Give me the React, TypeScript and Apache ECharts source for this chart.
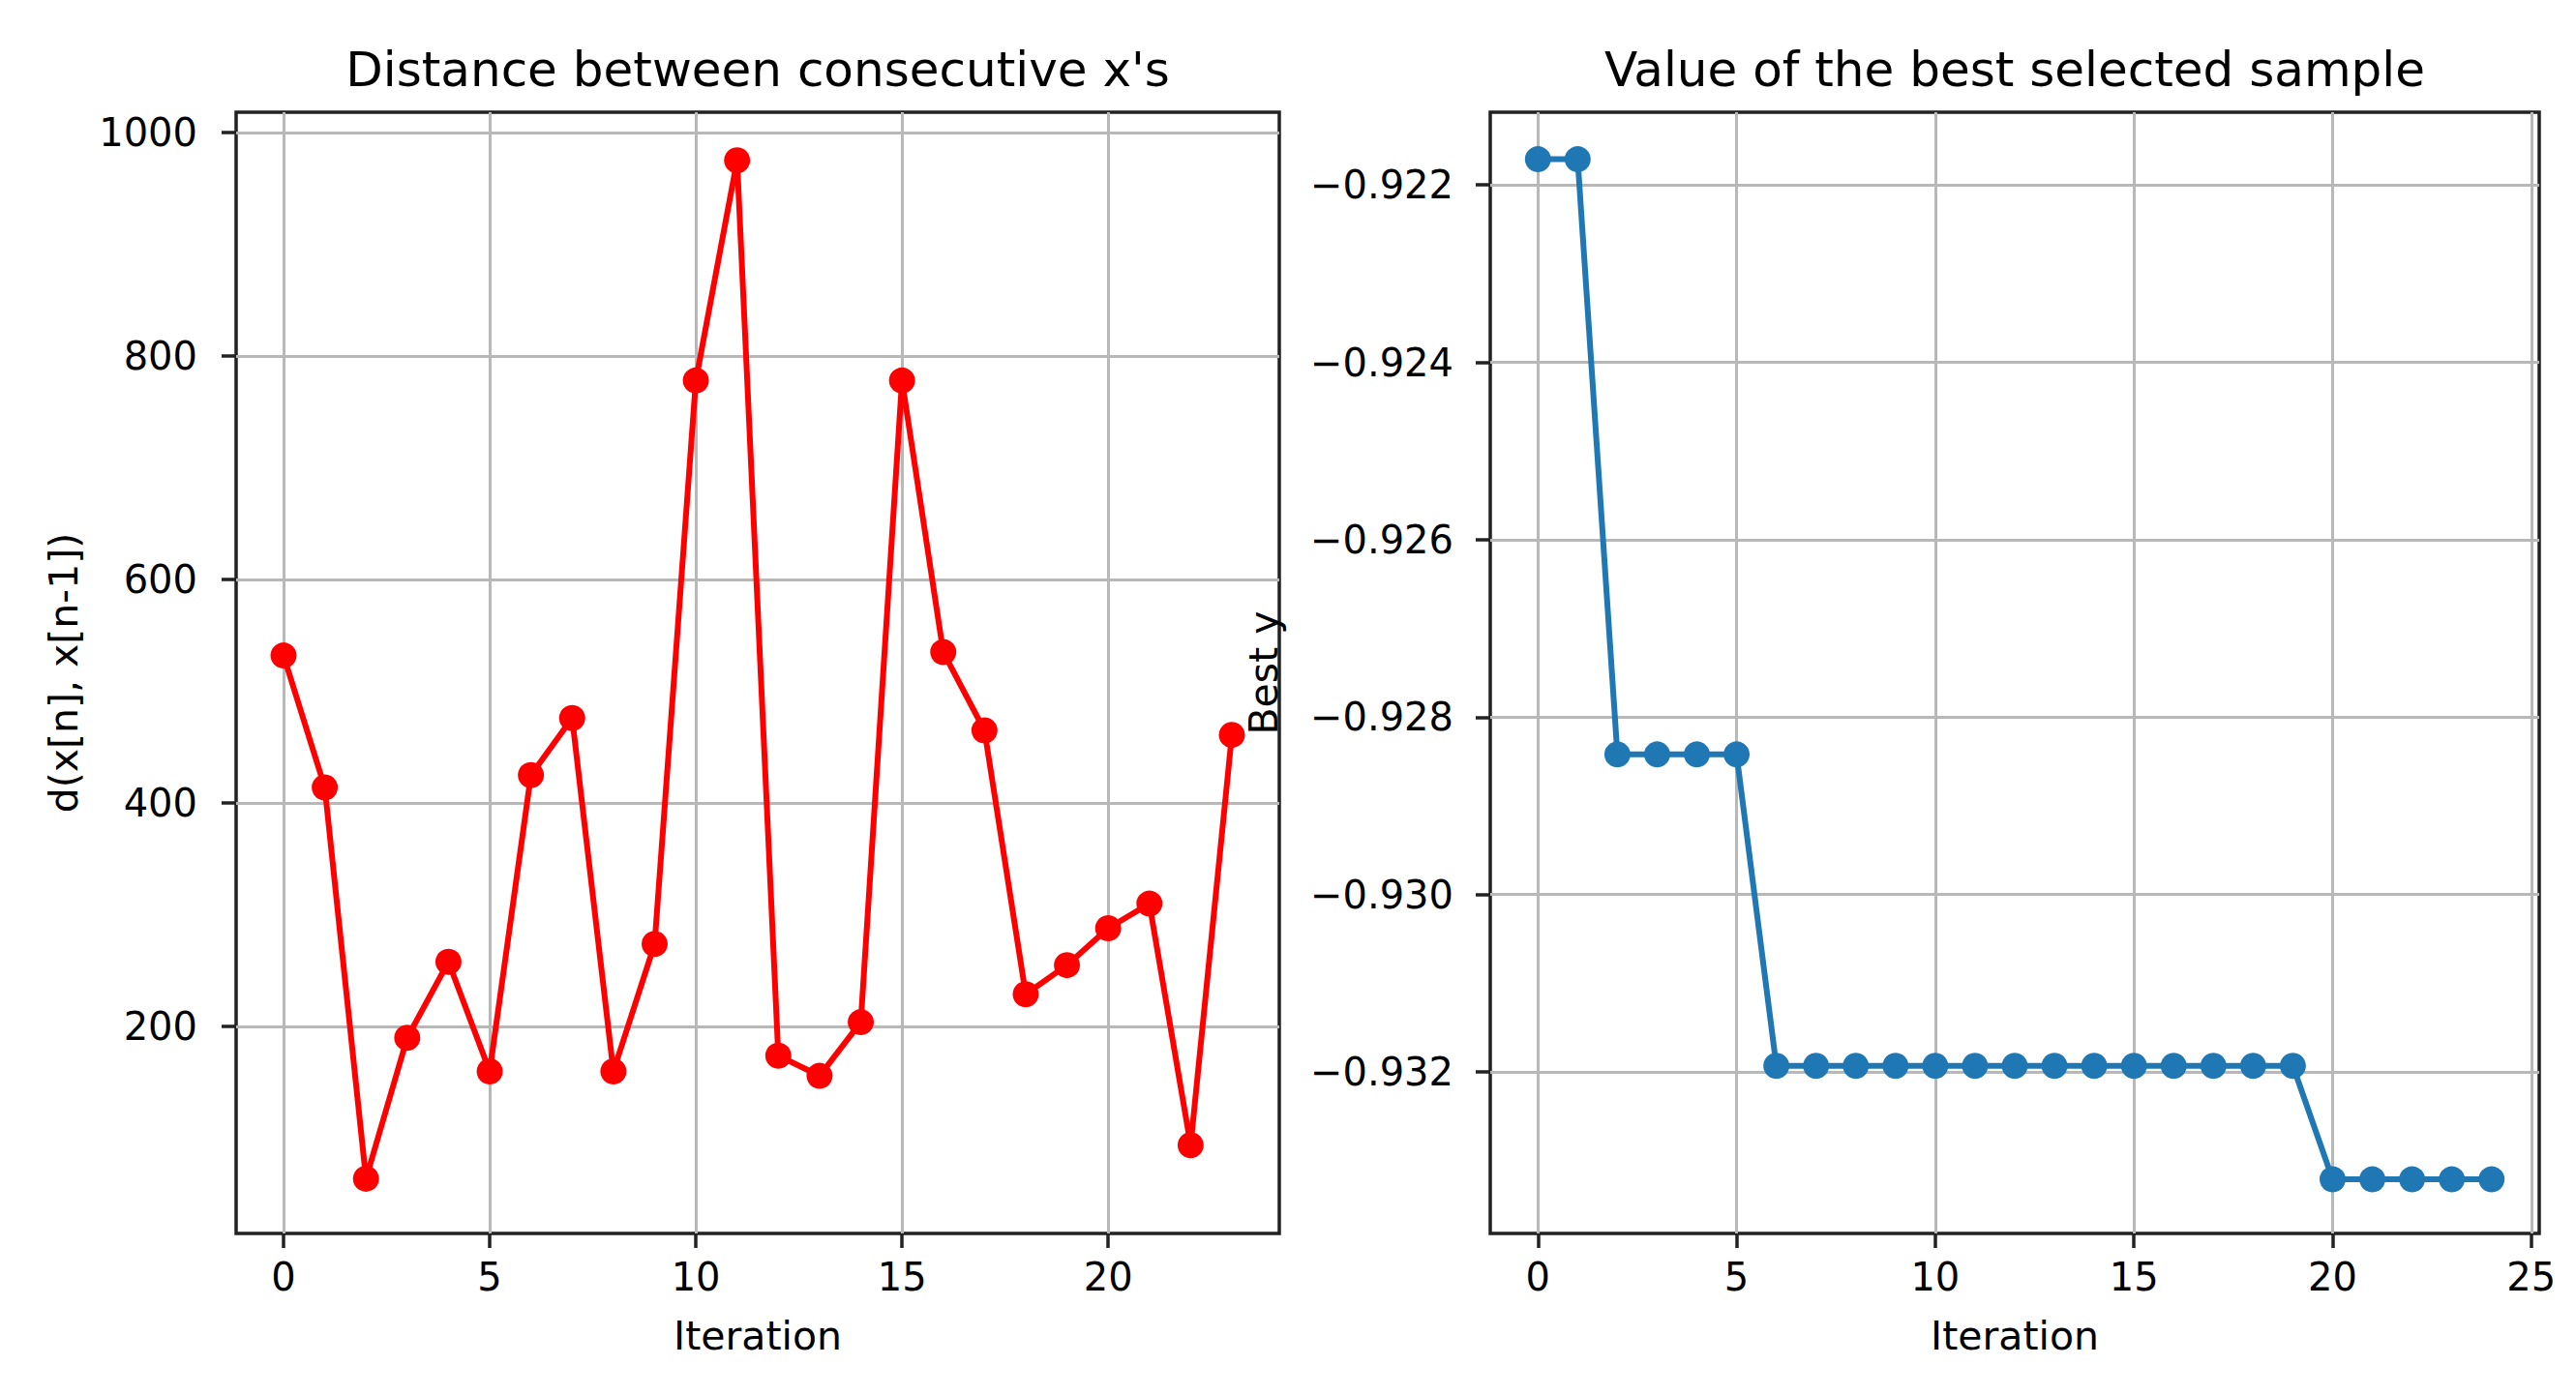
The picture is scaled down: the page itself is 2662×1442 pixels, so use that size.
import React, { useEffect, useRef } from 'react';
import * as echarts from 'echarts';

// ---- data ----
const iterationsLeft = [0, 1, 2, 3, 4, 5, 6, 7, 8, 9, 10, 11, 12, 13, 14, 15, 16, 17, 18, 19, 20, 21, 22, 23];
const distances = [532, 414, 64, 190, 258, 160, 425, 476, 160, 274, 778, 975, 174, 156, 204, 778, 535, 465, 229, 255, 288, 310, 94, 461];

const iterationsRight = [0, 1, 2, 3, 4, 5, 6, 7, 8, 9, 10, 11, 12, 13, 14, 15, 16, 17, 18, 19, 20, 21, 22, 23, 24];
const bestY = [
  -0.92171, -0.92171,
  -0.92842, -0.92842, -0.92842, -0.92842,
  -0.93193, -0.93193, -0.93193, -0.93193, -0.93193, -0.93193, -0.93193,
  -0.93193, -0.93193, -0.93193, -0.93193, -0.93193, -0.93193, -0.93193,
  -0.93321, -0.93321, -0.93321, -0.93321, -0.93321,
];

const leftXTicks = [0, 5, 10, 15, 20];
const leftYTicks = [200, 400, 600, 800, 1000];
const rightXTicks = [0, 5, 10, 15, 20, 25];
const rightYTicks = [-0.932, -0.93, -0.928, -0.926, -0.924, -0.922];

const leftTitle = "Distance between consecutive x's";
const rightTitle = 'Value of the best selected sample';
const xLabel = 'Iteration';
const leftYLabel = 'd(x[n], x[n-1])';
const rightYLabel = 'Best y';

const FONT = '"DejaVu Sans", "Liberation Sans", sans-serif';
const TICK_COLOR = '#222';
const GRID_COLOR = '#b8b8b8';

function fmtMinus(v: number, digits: number) {
  const s = Math.abs(v).toFixed(digits);
  return v < 0 ? '\u2212' + s : s;
}

function axisCommon(ticks: number[], formatter: (v: number) => string, margin: number) {
  return {
    axisLine: { show: false, onZero: false },
    axisTick: {
      show: true,
      inside: false,
      length: 15,
      customValues: ticks,
      lineStyle: { color: TICK_COLOR, width: 3.5 },
    },
    axisLabel: {
      customValues: ticks,
      formatter: (v: number) => formatter(v),
      color: '#000',
      fontFamily: FONT,
      fontSize: 40,
      margin,
    },
    splitLine: {
      show: true,
      lineStyle: { color: GRID_COLOR, width: 3 },
    },
  };
}

export default function App() {
  const ref = useRef<HTMLDivElement>(null);

  useEffect(() => {
    document.body.style.margin = '0';
    if (!ref.current) return;
    const chart = echarts.init(ref.current, null, { renderer: 'svg' });

    const leftData = iterationsLeft.map((x, i) => [x, distances[i]]);
    const rightData = iterationsRight.map((x, i) => [x, bestY[i]]);

    const nameStyle = { color: '#000', fontFamily: FONT, fontSize: 41 };

    chart.setOption({
      animation: false,
      backgroundColor: '#fff',
      grid: [
        { left: 244, top: 116, width: 1078, height: 1159, show: true, borderColor: TICK_COLOR, borderWidth: 3.5, backgroundColor: 'transparent', containLabel: false },
        { left: 1540, top: 116, width: 1084, height: 1159, show: true, borderColor: TICK_COLOR, borderWidth: 3.5, backgroundColor: 'transparent', containLabel: false },
      ],
      xAxis: [
        {
          type: 'value', gridIndex: 0, min: -1.15, max: 24.15,
          name: xLabel, nameLocation: 'middle', nameGap: 85, nameTextStyle: nameStyle,
          ...axisCommon(leftXTicks, (v) => String(v), 25),
        },
        {
          type: 'value', gridIndex: 1, min: -1.2, max: 25.2,
          name: xLabel, nameLocation: 'middle', nameGap: 85, nameTextStyle: nameStyle,
          ...axisCommon(rightXTicks, (v) => String(v), 25),
        },
      ],
      yAxis: [
        {
          type: 'value', gridIndex: 0, min: 15, max: 1018,
          name: leftYLabel, nameLocation: 'middle', nameGap: 158, nameTextStyle: nameStyle,
          ...axisCommon(leftYTicks, (v) => String(Math.round(v)), 40),
        },
        {
          type: 'value', gridIndex: 1, min: -0.93382, max: -0.92118,
          name: rightYLabel, nameLocation: 'middle', nameGap: 214, nameTextStyle: nameStyle,
          ...axisCommon(rightYTicks, (v) => fmtMinus(v, 3), 38),
        },
      ],
      graphic: [
        { type: 'text', x: 783, y: 72, style: { text: leftTitle, font: `50px ${FONT}`, fill: '#000', textAlign: 'center', textVerticalAlign: 'middle' } },
        { type: 'text', x: 2082, y: 72, style: { text: rightTitle, font: `50px ${FONT}`, fill: '#000', textAlign: 'center', textVerticalAlign: 'middle' } },
      ],
      series: [
        {
          type: 'line', xAxisIndex: 0, yAxisIndex: 0, data: leftData,
          symbol: 'circle', symbolSize: 27, showAllSymbol: true,
          lineStyle: { color: '#ff0000', width: 6 },
          itemStyle: { color: '#ff0000' },
        },
        {
          type: 'line', xAxisIndex: 1, yAxisIndex: 1, data: rightData,
          symbol: 'circle', symbolSize: 27, showAllSymbol: true,
          lineStyle: { color: '#1f77b4', width: 6 },
          itemStyle: { color: '#1f77b4' },
        },
      ],
    });

    return () => chart.dispose();
  }, []);

  return <div ref={ref} style={{ width: 2662, height: 1442 }} />;
}
